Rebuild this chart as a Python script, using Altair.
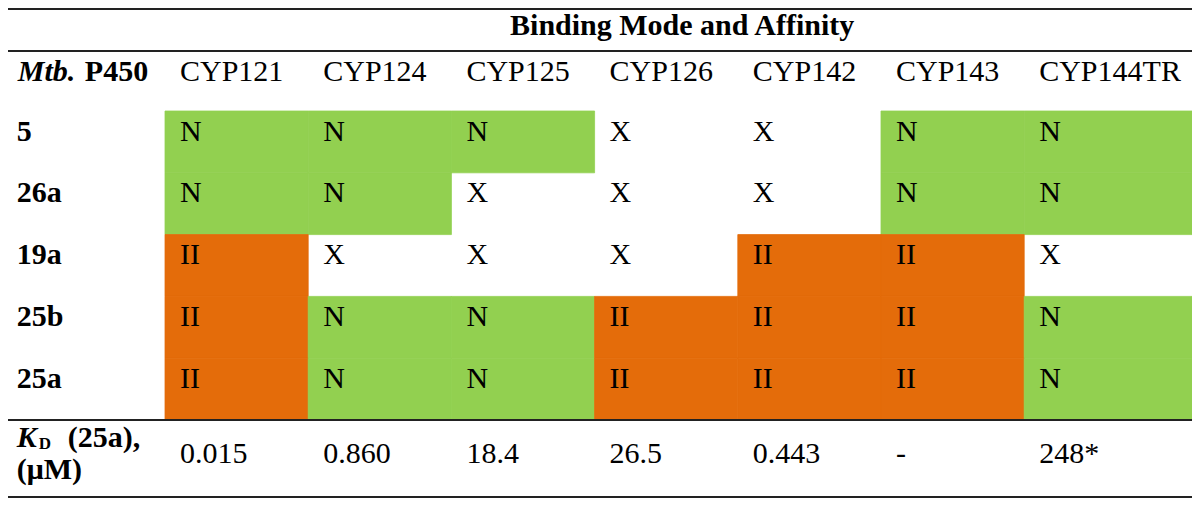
import altair as alt
import pandas as pd

compounds = ["5", "26a", "19a", "25b", "25a"]
enzymes = ["CYP121", "CYP124", "CYP125", "CYP126", "CYP142", "CYP143", "CYP144TR"]
binding_modes = [
    ["N", "N", "N", "X", "X", "N", "N"],
    ["N", "N", "X", "X", "X", "N", "N"],
    ["II", "X", "X", "X", "II", "II", "X"],
    ["II", "N", "N", "II", "II", "II", "N"],
    ["II", "N", "N", "II", "II", "II", "N"],
]
kd_values = ["0.015", "0.860", "18.4", "26.5", "0.443", "-", "248*"]
group_title = "Binding Mode and Affinity"
kd_compound = "25a"

mode_names = ["N", "II", "X"]
mode_colors = ["#92D050", "#E46C0A", "#FFFFFF"]

FONT = "Liberation Serif"
FS = 30
W, H = 1184, 490
n_cols = len(enzymes)

cells = pd.DataFrame([
    {"row": r, "col": c, "mode": m}
    for r, row in enumerate(binding_modes) for c, m in enumerate(row)
])
headers = pd.DataFrame({"col": list(range(n_cols)), "row": -0.5, "label": enzymes})
kd = pd.DataFrame({"col": list(range(n_cols)), "row": 5.5, "label": kd_values})
rowlabels = pd.DataFrame({"row": list(range(len(compounds))), "col": -1, "label": compounds})

xs = alt.Scale(domain=[-1.0964, 7.1718], clamp=True)
ys = alt.Scale(domain=[-1.6667, 6.2621], reverse=True)


def X(f="col:Q"):
    return alt.X(f, scale=xs, axis=None)


def Y(f="row:Q"):
    return alt.Y(f, scale=ys, axis=None)


mode_scale = alt.Scale(domain=mode_names, range=mode_colors)

rects = (
    alt.Chart(cells)
    .transform_filter("datum.mode != 'X'")
    .transform_calculate(
        col_end=f"datum.col == {n_cols - 1} ? datum.col + 2 : datum.col + 1",
        row_end="datum.row + 1",
    )
    .mark_rect(strokeWidth=0.8, opacity=1, fillOpacity=1, strokeOpacity=1)
    .encode(
        x=X(), x2="col_end:Q", y=Y(), y2="row_end:Q",
        color=alt.Color("mode:N", scale=mode_scale, legend=None),
        stroke=alt.Stroke("mode:N", scale=mode_scale, legend=None),
    )
)

txt = dict(font=FONT, fontSize=FS, color="black", align="left", baseline="alphabetic")

cell_text = alt.Chart(cells).mark_text(dx=15, dy=29.5, **txt).encode(
    x=X(), y=Y(), text="mode:N")

header_text = alt.Chart(headers).mark_text(dx=15, dy=1, **txt).encode(
    x=X(), y=Y(), text="label:N")

kd_text = alt.Chart(kd).mark_text(dx=15, dy=12, **txt).encode(
    x=X(), y=Y(), text="label:N")

row_text = alt.Chart(rowlabels).mark_text(dx=-5, dy=29.5, fontWeight="bold", **txt).encode(
    x=X(), y=Y(), text="label:N")

corner = pd.DataFrame({"col": [-1], "row": [-0.5]})
mtb = alt.Chart(corner).mark_text(dx=-4, dy=1, fontWeight="bold", fontStyle="italic",
                                  text="Mtb.", **txt).encode(x=X(), y=Y())
p450 = alt.Chart(corner).mark_text(dx=63, dy=1, fontWeight="bold",
                                   text="P450", **txt).encode(x=X(), y=Y())

kdpos = pd.DataFrame({"col": [-1], "row": [5.5]})
k_letter = alt.Chart(kdpos).mark_text(dx=-5, dy=-4, fontWeight="bold", fontStyle="italic",
                                      text="K", **txt).encode(x=X(), y=Y())
d_sub = alt.Chart(kdpos).mark_text(dx=17, dy=-2, fontWeight="bold", text="D", font=FONT,
                                   fontSize=17, color="black", align="left",
                                   baseline="alphabetic").encode(x=X(), y=Y())
kd_cmp = alt.Chart(kdpos).mark_text(dx=46, dy=-4, fontWeight="bold",
                                    text=f"({kd_compound}),", **txt).encode(x=X(), y=Y())
kd_unit = alt.Chart(kdpos).mark_text(dx=-5, dy=28, fontWeight="bold",
                                     text="(μM)", **txt).encode(x=X(), y=Y())

title_pos = pd.DataFrame({"col": [n_cols / 2], "row": [-1.5]})
title = alt.Chart(title_pos).mark_text(dx=16, dy=17, fontWeight="bold", text=group_title,
                                       font=FONT, fontSize=FS, color="black",
                                       align="center", baseline="alphabetic").encode(x=X(), y=Y())

rule_style = dict(color="#222222", strokeWidth=2)
rules = [
    alt.Chart(corner).mark_rule(**rule_style).encode(
        x=alt.value(0), x2=alt.value(W), y=alt.value(yv))
    for yv in (1, 43, 412, 489)
]

chart = alt.layer(
    rects, cell_text, header_text, kd_text, row_text, mtb, p450,
    k_letter, d_sub, kd_cmp, kd_unit, title, *rules
).properties(
    width=W, height=H, padding=0, autosize="none", background="white"
).configure_view(stroke=None)

chart.save("out.html", embed_options={"renderer": "svg", "actions": False})
